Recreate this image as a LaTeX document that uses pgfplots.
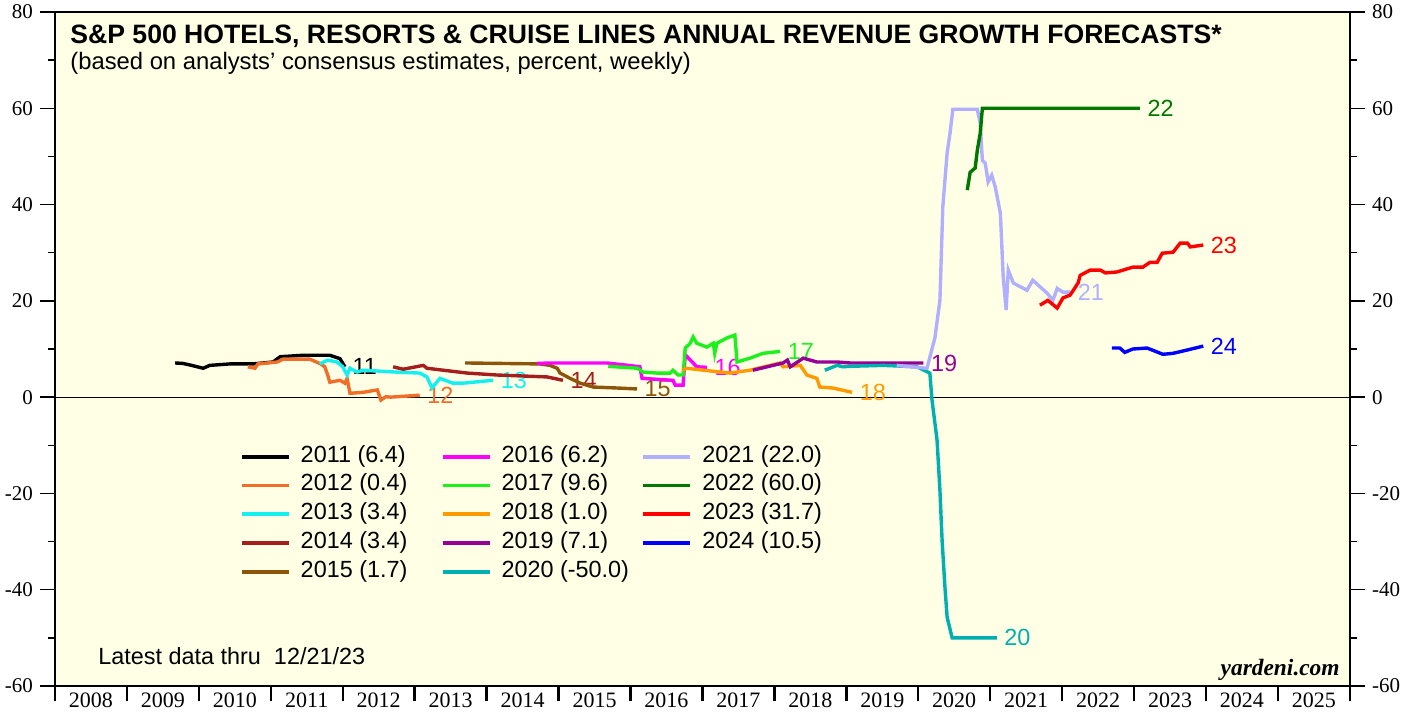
\documentclass[border=0pt]{standalone}
\usepackage{fontspec}
\setmainfont{Liberation Sans}
\newfontfamily\timesf{Liberation Serif}
\usepackage{pgfplots}
\pgfplotsset{compat=1.18}

\definecolor{bgy}{RGB}{255,255,230}
\definecolor{c11}{RGB}{0,0,0}
\definecolor{c12}{RGB}{240,110,40}
\definecolor{c13}{RGB}{20,240,240}
\definecolor{c14}{RGB}{165,30,30}
\definecolor{c15}{RGB}{140,85,10}
\definecolor{c16}{RGB}{255,0,255}
\definecolor{c17}{RGB}{30,240,30}
\definecolor{c18}{RGB}{255,155,0}
\definecolor{c19}{RGB}{150,0,150}
\definecolor{c20}{RGB}{0,175,175}
\definecolor{c21}{RGB}{176,176,255}
\definecolor{c22}{RGB}{0,120,0}
\definecolor{c23}{RGB}{255,0,0}
\definecolor{c24}{RGB}{0,0,255}

\pgfplotsset{
  common/.style={
    width=647.5pt, height=337pt, scale only axis,
    xmin=2008, xmax=2026, ymin=-60, ymax=80,
    tick align=outside,
    ytick={-60,-40,...,80}, minor ytick={-50,-30,...,70},
    major tick length=7.5pt, minor tick length=3.5pt,
    y tick style={black, line width=0.7pt},
    yticklabel style={font=\timesf\fontsize{10.5}{12}\selectfont},
    /pgf/number format/assume math mode=true,
  },
  ser/.style={line width=1.7pt, color=#1},
}
\tikzset{
  lab/.style={pos=1, anchor=west, inner sep=1.5pt, xshift=1.5pt,
    font=\fontsize{11.7}{13}\selectfont, text=#1},
}

\begin{document}
\begin{tikzpicture}
\begin{axis}[common,
  axis background/.style={fill=bgy},
  axis line style={line width=1.2pt},
  ytick pos=left,
  xtick={2008,...,2026}, xticklabels={},
  xtick pos=left,
  x tick style={black, line width=1.2pt},
  extra x ticks={2008.5,2009.5,...,2025.5},
  extra x tick labels={2008,2009,2010,2011,2012,2013,2014,2015,2016,2017,2018,2019,2020,2021,2022,2023,2024,2025},
  extra x tick style={major tick length=0pt},
  xticklabel style={font=\timesf\fontsize{11}{13}\selectfont},
  legend style={draw=none, fill=none, at={(rel axis cs:0.1425,0.3580)}, anchor=north west,
    font=\fontsize{11.7}{13}\selectfont, row sep=2.9pt, inner sep=0pt,
    nodes={inner sep=0pt, text height=8.5pt, text depth=3pt},
    /tikz/every odd column/.append style={column sep=5pt}},
  legend cell align=left,
  transpose legend, legend columns=5,
  legend image code/.code={\draw[#1, line width=1.9pt] (0pt,0pt) -- (23.5pt,0pt);},
]
\addplot[black, line width=0.6pt, forget plot] coordinates {(2008,0) (2026,0)};

\addplot[ser=c11] coordinates {(2009.67,7.1)(2009.78,7.0)(2009.90,6.6)(2010.06,6.0)(2010.15,6.6)(2010.43,6.9)(2010.75,6.9)(2011.03,7.3)(2011.13,8.4)(2011.45,8.7)(2011.82,8.7)(2011.96,8.0)(2012.03,6.3)} node[lab=c11] {11};
\addplot[ser=c12] coordinates {(2010.68,6.3)(2010.78,6.0)(2010.82,6.9)(2011.09,7.3)(2011.17,7.9)(2011.54,7.9)(2011.68,7.0)(2011.75,6.3)(2011.79,4.6)(2011.82,3.1)(2011.96,3.5)(2012.03,2.9)(2012.06,3.9)(2012.10,0.8)(2012.28,1.0)(2012.48,1.5)(2012.53,-0.6)(2012.60,0.1)(2012.66,0.0)(2013.07,0.4)} node[lab=c12] {12};
\addplot[ser=c13] coordinates {(2011.68,6.9)(2011.79,7.7)(2011.92,7.3)(2012.00,6.3)(2012.06,4.6)(2012.10,6.0)(2012.20,5.2)(2012.28,5.6)(2012.75,5.2)(2013.07,5.0)(2013.17,4.2)(2013.24,1.9)(2013.35,3.9)(2013.53,2.9)(2013.67,2.9)(2014.09,3.5)} node[lab=c13] {13};
\addplot[ser=c14] coordinates {(2012.70,6.3)(2012.84,5.8)(2013.12,6.6)(2013.17,6.0)(2013.73,5.0)(2014.14,4.6)(2014.84,4.2)(2015.06,3.5)} node[lab=c14] {14};
\addplot[ser=c15] coordinates {(2013.70,7.1)(2014.74,6.9)(2014.88,6.6)(2014.98,6.0)(2015.02,5.0)(2015.16,3.9)(2015.30,2.9)(2015.48,2.1)(2015.81,1.9)(2016.09,1.7)} node[lab=c15] {15};
\addplot[ser=c16] coordinates {(2014.70,7.0)(2014.88,7.1)(2015.67,7.1)(2015.97,6.6)(2016.13,6.3)(2016.16,3.9)(2016.59,3.5)(2016.62,2.5)(2016.73,2.5)(2016.76,8.8)(2016.87,7.1)(2016.92,6.3)(2017.06,6.2)} node[lab=c16] {16};
\addplot[ser=c17] coordinates {(2015.69,6.4)(2016.10,6.0)(2016.17,5.2)(2016.37,5.0)(2016.55,5.0)(2016.59,5.6)(2016.66,4.6)(2016.73,4.6)(2016.76,10.2)(2016.83,11.2)(2016.87,12.5)(2016.92,11.2)(2017.06,10.4)(2017.15,11.2)(2017.17,9.1)(2017.20,11.2)(2017.34,12.3)(2017.45,12.9)(2017.48,7.3)(2017.66,8.1)(2017.84,9.1)(2018.08,9.5)} node[lab=c17] {17};
\addplot[ser=c18] coordinates {(2016.72,5.6)(2016.78,6.0)(2017.01,5.6)(2017.38,5.0)(2017.66,5.6)(2018.08,7.1)(2018.12,6.3)(2018.36,6.6)(2018.45,4.6)(2018.59,3.9)(2018.63,2.1)(2018.81,1.9)(2019.08,1.0)} node[lab=c18] {18};
\addplot[ser=c19] coordinates {(2017.70,5.6)(2018.12,7.1)(2018.18,7.7)(2018.22,6.3)(2018.40,8.1)(2018.59,7.3)(2018.87,7.3)(2019.05,7.1)(2019.51,7.1)(2020.07,7.1)} node[lab=c19] {19};
\addplot[ser=c20] coordinates {(2018.70,5.6)(2018.87,6.6)(2018.95,6.3)(2019.05,6.4)(2019.51,6.6)(2019.98,6.3)(2020.16,5.0)(2020.19,-0.6)(2020.26,-8.9)(2020.30,-19.3)(2020.33,-29.7)(2020.37,-39.5)(2020.40,-45.7)(2020.47,-50.0)(2021.09,-50.0)} node[lab=c20] {20};
\addplot[ser=c21] coordinates {(2019.70,6.6)(2019.90,6.3)(2020.12,6.0)(2020.23,12.3)(2020.30,20.1)(2020.34,39.5)(2020.40,50.7)(2020.44,54.8)(2020.48,59.8)(2020.82,59.8)(2020.86,56.9)(2020.89,49.2)(2020.93,48.6)(2020.97,44.7)(2021.02,46.1)(2021.07,43.6)(2021.14,38.2)(2021.18,24.9)(2021.22,18.1)(2021.25,26.4)(2021.32,23.7)(2021.51,22.2)(2021.59,24.3)(2021.79,21.6)(2021.87,20.1)(2021.93,22.6)(2022.01,21.8)(2022.11,21.8)} node[lab=c21] {21};
\addplot[ser=c22] coordinates {(2020.68,43.0)(2020.72,46.7)(2020.79,47.6)(2020.82,51.3)(2020.86,54.8)(2020.89,60.0)(2023.08,60.0)} node[lab=c22] {22};
\addplot[ser=c23] coordinates {(2021.69,19.1)(2021.80,20.1)(2021.93,18.5)(2022.01,20.6)(2022.11,21.2)(2022.22,23.7)(2022.25,25.3)(2022.39,26.4)(2022.53,26.4)(2022.60,25.8)(2022.76,26.0)(2022.98,27.0)(2023.12,27.0)(2023.22,28.0)(2023.32,28.0)(2023.39,29.9)(2023.54,30.1)(2023.64,32.0)(2023.74,32.0)(2023.78,31.2)(2023.96,31.6)} node[lab=c23] {23};
\addplot[ser=c24] coordinates {(2022.69,10.2)(2022.80,10.2)(2022.87,9.3)(2022.98,10.0)(2023.18,10.2)(2023.40,8.9)(2023.54,9.1)(2023.74,9.8)(2023.96,10.6)} node[lab=c24] {24};

\legend{\makebox[70pt][l]{2011 (6.4)},\makebox[70pt][l]{2012 (0.4)},\makebox[70pt][l]{2013 (3.4)},\makebox[70pt][l]{2014 (3.4)},\makebox[70pt][l]{2015 (1.7)},
\makebox[70pt][l]{2016 (6.2)},\makebox[70pt][l]{2017 (9.6)},\makebox[70pt][l]{2018 (1.0)},\makebox[70pt][l]{2019 (7.1)},\makebox[70pt][l]{2020 (-50.0)},
\makebox[70pt][l]{2021 (22.0)},\makebox[70pt][l]{2022 (60.0)},\makebox[70pt][l]{2023 (31.7)},\makebox[70pt][l]{2024 (10.5)}}

\node[anchor=base west, inner sep=0pt, font=\bfseries\fontsize{13.3}{15}\selectfont] at (rel axis cs:0.0116,0.954) {S\&P 500 HOTELS, RESORTS \& CRUISE LINES ANNUAL REVENUE GROWTH FORECASTS*};
\node[anchor=base west, inner sep=0pt, font=\fontsize{11.9}{14}\selectfont] at (rel axis cs:0.0116,0.914) {(based on analysts’ consensus estimates, percent, weekly)};
\node[anchor=base west, inner sep=0pt, font=\fontsize{11.7}{14}\selectfont] at (rel axis cs:0.0332,0.0312) {Latest data thru~~12/21/23};
\node[anchor=base east, inner sep=0pt, font=\timesf\bfseries\itshape\fontsize{11.7}{14}\selectfont] at (rel axis cs:0.9923,0.0163) {yardeni.com};
\end{axis}
\begin{axis}[common,
  hide x axis,
  axis y line*=right,
  axis line style={-, line width=1.2pt},
  ytick pos=right, yticklabel pos=right,
]
\end{axis}
\pgfresetboundingbox
\path (-27.5pt,-15.5pt) rectangle (680.5pt,343pt);
\end{tikzpicture}
\end{document}
